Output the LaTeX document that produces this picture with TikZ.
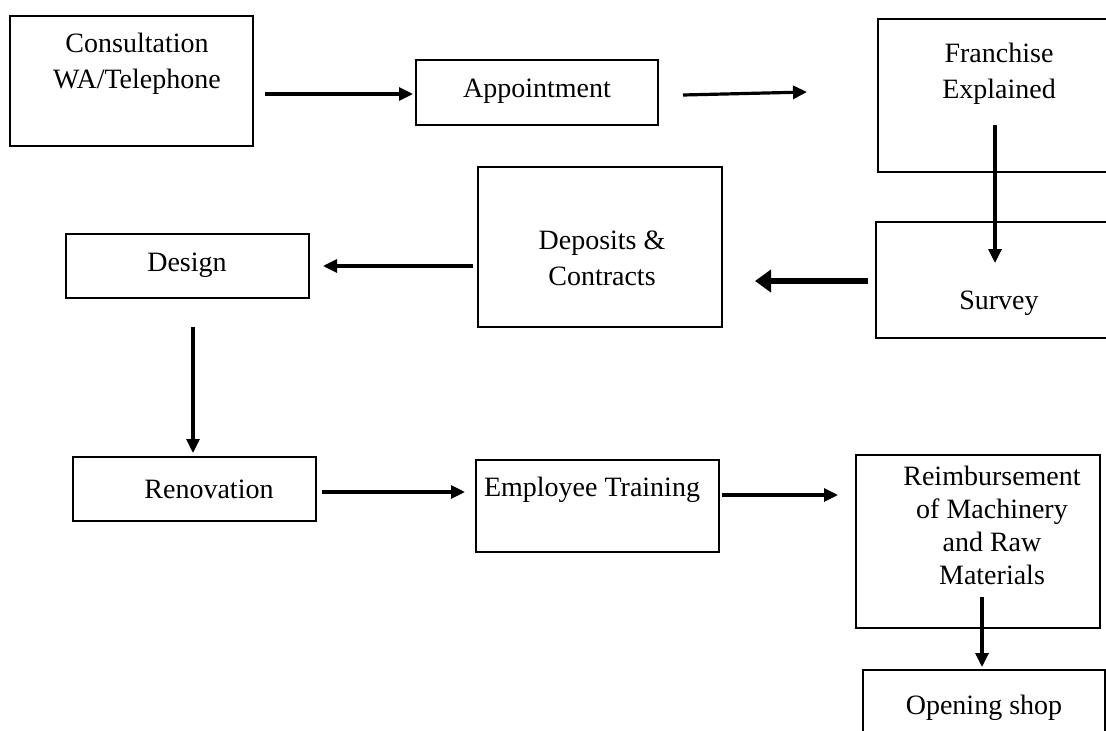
\documentclass[tikz,border=0pt]{standalone}
\usepackage{fontspec}
\setmainfont{Liberation Serif}
\usetikzlibrary{arrows.meta}
\begin{document}
\begin{tikzpicture}[x=1pt,y=1pt,
  box/.style={draw=black,line width=1.8pt},
  lbl/.style={inner sep=0pt,align=center,font=\fontsize{28}{36}\selectfont},
  conn/.style={line width=3.2pt,-{Triangle[length=14pt,width=13pt]}},
  thickconn/.style={line width=6pt,-{Triangle[length=16pt,width=22pt]}}]
\useasboundingbox (0,0) rectangle (1106,-731);
\clip (0,0) rectangle (1106,-731);
% boxes
\draw[box] (10,-16) rectangle (253,-146);
\draw[box] (416,-60) rectangle (658,-125);
\draw[box] (878,-19) rectangle (1125,-172);
\draw[box] (876,-222) rectangle (1125,-338);
\draw[box] (478,-167) rectangle (722,-327);
\draw[box] (66,-234) rectangle (309,-298);
\draw[box] (73,-457) rectangle (316,-521);
\draw[box] (476,-460) rectangle (719,-552);
\draw[box] (856,-455) rectangle (1100,-628);
\draw[box] (863,-670) rectangle (1105,-760);
% labels
\node[lbl] (cons) at (137,-64) {Consultation\\WA/Telephone};
\node[lbl] (appt) at (537,-91) {Appointment};
\node[lbl] (fran) at (999,-74) {Franchise\\Explained};
\node[lbl] (surv) at (999,-303) {Survey};
\node[lbl] (dep) at (602,-258) {Deposits \&\\Contracts};
\node[lbl] (des) at (187,-265) {Design};
\node[lbl] (ren) at (209,-489) {Renovation};
\node[lbl] (emp) at (592,-490) {Employee Training};
\node[lbl,font=\fontsize{28}{33}\selectfont] (reim) at (992,-525) {Reimbursement\\of Machinery\\and Raw\\Materials};
\node[lbl] (open) at (984,-708) {Opening shop};
% connector end points
\coordinate (a1s) at (265,-94);  \coordinate (a1e) at (413,-94);
\coordinate (a2s) at (683,-95);  \coordinate (a2e) at (807,-92);
\coordinate (a3s) at (995,-125); \coordinate (a3e) at (995,-263);
\coordinate (a4s) at (868,-281); \coordinate (a4e) at (755,-281);
\coordinate (a5s) at (473,-266); \coordinate (a5e) at (323,-266);
\coordinate (a6s) at (193,-327); \coordinate (a6e) at (193,-453);
\coordinate (a7s) at (322,-492); \coordinate (a7e) at (465,-492);
\coordinate (a8s) at (722,-495); \coordinate (a8e) at (838,-495);
\coordinate (a9s) at (982,-597); \coordinate (a9e) at (982,-667);
% connectors
\draw[conn] (a1s) -- (a1e);
\draw[conn] (a2s) -- (a2e);
\draw[conn] (a3s) -- (a3e);
\draw[thickconn] (a4s) -- (a4e);
\draw[conn] (a5s) -- (a5e);
\draw[conn] (a6s) -- (a6e);
\draw[conn] (a7s) -- (a7e);
\draw[conn] (a8s) -- (a8e);
\draw[conn] (a9s) -- (a9e);
\end{tikzpicture}
\end{document}
